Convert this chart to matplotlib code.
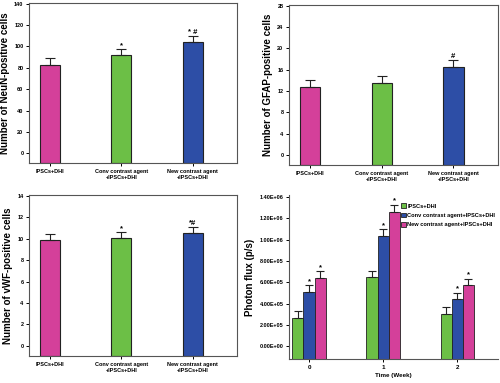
import numpy as np
import matplotlib.pyplot as plt
from matplotlib.ticker import FuncFormatter

plt.rcParams['font.family'] = ['Liberation Sans', 'DejaVu Sans']
plt.rcParams['font.weight'] = 'bold'

# colours
pink = "#d4409a"
green = "#6cbf46"
blue = "#2d4ea6"

# top-left: NeuN
groups = ["IPSCs+DHI", "Conv contrast agent\n+IPSCs+DHI", "New contrast agent\n+IPSCs+DHI"]
neun = [83, 91.5, 104]
neun_err = [6, 6, 6]
neun_marks = ["", "*", "* #"]

# top-right: GFAP
gfap = [12.8, 13.4, 16.5]
gfap_err = [1.3, 1.3, 1.3]
gfap_marks = ["", "", "#"]

# bottom-left: vWF
vwf = [9.85, 10.05, 10.55]
vwf_err = [0.6, 0.6, 0.6]
vwf_marks = ["", "*", "*#"]

# bottom-right: photon flux
weeks = ["0", "1", "2"]
flux_labels = ["IPSCs+DHI", "Conv contrast agent+IPSCs+DHI", "New contrast agent+IPSCs+DHI"]
flux_ipsc = [2.7e5, 6.5e5, 3.0e5]
flux_conv = [5.15e5, 1.04e6, 4.45e5]
flux_new = [6.4e5, 1.265e6, 5.75e5]
flux_ipsc_err = [6.5e4, 6.0e4, 6.5e4]
flux_conv_err = [6.0e4, 6.0e4, 6.0e4]
flux_new_err = [6.5e4, 6.5e4, 6.0e4]
flux_ipsc_marks = ["", "", ""]
flux_conv_marks = ["*", "*", "*"]
flux_new_marks = ["*", "*", "*"]

W, H = 500, 383
fig = plt.figure(figsize=(5, 3.83), dpi=100)


def rect(l, r, t, b):
    return [l / W, (H - b) / H, (r - l) / W, (b - t) / H]


def bar_panel(ax, vals, errs, marks, ylim, yticks, ylabel):
    x = np.arange(len(vals))
    cols = [pink, green, blue]
    base = ylim[0]
    ax.bar(x, np.array(vals) - base, bottom=base, width=0.28, color=cols,
           edgecolor="#222222", linewidth=0.8)
    ax.errorbar(x, vals, yerr=[np.zeros(len(errs)), errs], fmt="none",
                ecolor="#222222", elinewidth=0.8, capsize=3.5, capthick=0.8)
    for xi, v, e, m in zip(x, vals, errs, marks):
        if m:
            ax.text(xi, v + e, m, ha="center", va="bottom", fontsize=5.5)
    ax.set_xlim(-0.29, 2.62)
    ax.set_ylim(*ylim)
    ax.set_yticks(yticks)
    ax.set_xticks(x)
    ax.set_xticklabels(groups, fontsize=4)
    ax.tick_params(axis="y", labelsize=4, length=2.5, width=0.7, pad=1.5)
    ax.tick_params(axis="x", length=2.5, width=0.7, pad=2)
    ax.set_ylabel(ylabel, fontsize=7, fontweight="bold", labelpad=3)
    for s in ax.spines.values():
        s.set_color("#555555")
        s.set_linewidth(0.8)


ax1 = fig.add_axes(rect(29, 237, 3, 163))
bar_panel(ax1, neun, neun_err, neun_marks, (-9, 140.5), range(0, 141, 20),
          "Number of NeuN-positive cells")

ax2 = fig.add_axes(rect(289, 498, 5, 165))
bar_panel(ax2, gfap, gfap_err, gfap_marks, (-1.9, 28.1), range(0, 29, 4),
          "Number of GFAP-positive cells")

ax3 = fig.add_axes(rect(29, 237, 195, 356))
bar_panel(ax3, vwf, vwf_err, vwf_marks, (-0.96, 14.1), range(0, 15, 2),
          "Number of vWF-positive cells")

# photon flux panel
ax4 = fig.add_axes(rect(289, 498, 195, 359))
x = np.arange(len(weeks))
bw = 0.15
base = -1.18e5
series = [(flux_ipsc, flux_ipsc_err, flux_ipsc_marks, green, -bw),
          (flux_conv, flux_conv_err, flux_conv_marks, blue, 0),
          (flux_new, flux_new_err, flux_new_marks, pink, bw)]
for (vals, errs, marks, col, off), lab in zip(series, flux_labels):
    xs = x + off
    ax4.bar(xs, np.array(vals) - base, bottom=base, width=bw, color=col,
            edgecolor="#222222", linewidth=0.6, label=lab)
    ax4.errorbar(xs, vals, yerr=[np.zeros(len(errs)), errs], fmt="none",
                 ecolor="#222222", elinewidth=0.8, capsize=3, capthick=0.8)
    for xi, v, e, m in zip(xs, vals, errs, marks):
        if m:
            ax4.text(xi, v + e, m, ha="center", va="bottom", fontsize=5.5)
ax4.set_xlim(-0.27, 2.55)
ax4.set_ylim(base, 1.42e6)
ax4.set_yticks(np.arange(0, 1.41e6, 2e5))
ax4.yaxis.set_major_formatter(FuncFormatter(lambda v, p: f"{v:.2E}"))
ax4.set_xticks(x)
ax4.set_xticklabels(weeks, fontsize=4.5)
ax4.tick_params(axis="y", labelsize=4, length=2.5, width=0.7, pad=1.5)
ax4.tick_params(axis="x", length=2.5, width=0.7, pad=2)
ax4.set_xlabel("Time (Week)", fontsize=4.5, fontweight="bold", labelpad=2)
ax4.set_ylabel("Photon flux (p/s)", fontsize=7, fontweight="bold", labelpad=3)
ax4.spines["top"].set_visible(False)
ax4.spines["right"].set_visible(False)
for s in ["left", "bottom"]:
    ax4.spines[s].set_color("#555555")
    ax4.spines[s].set_linewidth(0.8)
ax4.legend(loc="upper left", bbox_to_anchor=(0.52, 0.97), frameon=False,
           fontsize=4.1, handlelength=0.8, handleheight=0.9,
           handletextpad=0.3, labelspacing=0.7, borderaxespad=0.2)

fig.savefig("out.png", dpi=100)
